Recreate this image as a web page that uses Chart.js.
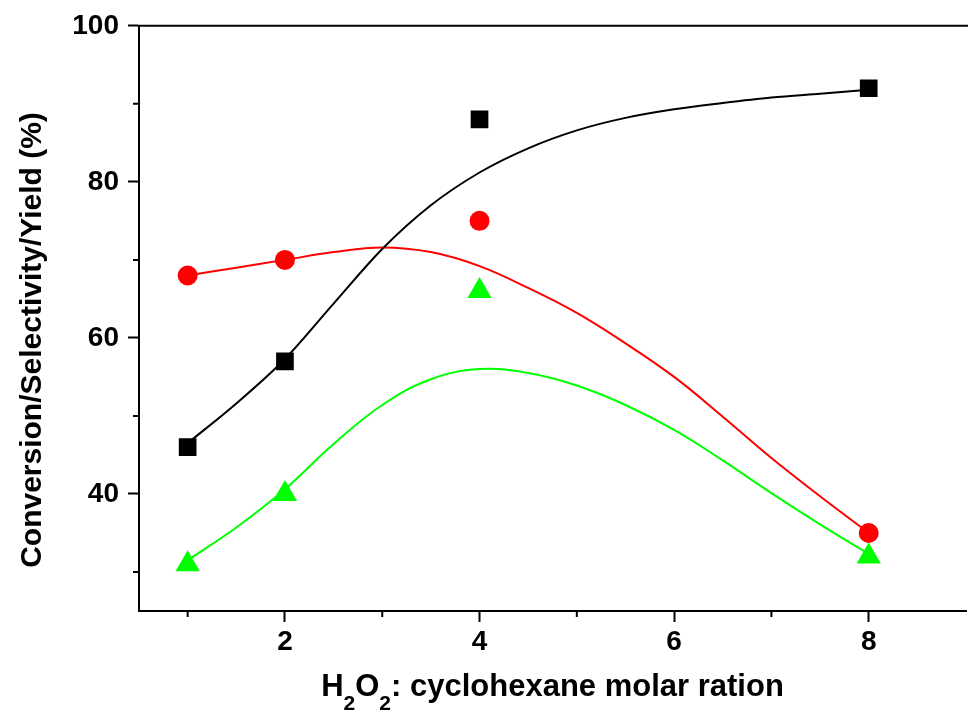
<!DOCTYPE html>
<html>
<head>
<meta charset="utf-8">
<script src="https://cdn.jsdelivr.net/npm/chart.js@4.4.0/dist/chart.umd.min.js"></script>
<style>
  html, body { margin: 0; padding: 0; background: #fff; overflow: hidden; }
  #wrap { width: 980px; height: 715px; }
</style>
</head>
<body>
<div id="wrap"><canvas id="main-chart"></canvas></div>
<script>
// ---- datos medidos ----
const ratios = [1, 2, 4, 8];
const conversion = [46, 57, 88, 92];
const selectivity = [68, 70, 75, 35];
const yieldValues = [31, 40, 66, 32];

// curvas de ajuste
const fitX = [1, 1.5, 2, 2.5, 3, 3.5, 4, 4.5, 5, 5.5, 6, 6.5, 7, 7.5, 8];
const conversionFit = [46.5, 51.6, 57.3, 64.4, 71.4, 77.0, 81.2, 84.3, 86.6, 88.2, 89.3, 90.1, 90.8, 91.3, 91.8];
const selectivityFit = [68, 69.0, 70, 71.0, 71.6, 71.0, 69.2, 66.4, 63.2, 59.3, 55.0, 49.9, 44.6, 39.7, 35];
const yieldFit = [31.5, 35.7, 40.6, 46.4, 51.4, 54.7, 56.0, 55.5, 53.9, 51.4, 48.2, 44.3, 40.1, 36.1, 32.3];

const xMajorTicks = [2, 4, 6, 8];
const xMinorTicks = [1, 3, 5, 7];
const yMajorTicks = [40, 60, 80, 100];
const yMinorTicks = [30, 50, 70, 90];

const xTitleParts = [['H', false], ['2', true], ['O', false], ['2', true], [': cyclohexane molar ration', false]];
const yTitle = 'Conversion/Selectivity/Yield (%)';

const FONT = "'Liberation Sans', Arial, sans-serif";

const pts = (xs, ys) => xs.map((x, i) => ({ x: x, y: ys[i] }));

function markers(data, color, style, radius) {
    return {
        data: data,
        showLine: false,
        pointStyle: style,
        pointRadius: radius,
        pointBackgroundColor: color,
        pointBorderColor: color,
        pointBorderWidth: 0
    };
}

function fitLine(data, color, mode) {
    return {
        data: data,
        showLine: true,
        borderColor: color,
        borderWidth: 2,
        pointRadius: 0,
        tension: 0.4,
        cubicInterpolationMode: mode,
        fill: false
    };
}

// marco superior, ticks menores y titulos de ejes
const decorPlugin = {
    id: 'decor',
    afterDraw(chart) {
        const ctx = chart.ctx;
        const area = chart.chartArea;
        const xs = chart.scales.x;
        const ys = chart.scales.y;
        ctx.save();
        ctx.strokeStyle = '#000';
        ctx.lineWidth = 2;
        ctx.beginPath();
        ctx.moveTo(area.left - 1, area.top);
        ctx.lineTo(area.right + 2, area.top);
        ctx.stroke();

        ctx.beginPath();
        xMinorTicks.forEach(v => {
            const px = xs.getPixelForValue(v);
            ctx.moveTo(px, area.bottom);
            ctx.lineTo(px, area.bottom + 6);
        });
        yMinorTicks.forEach(v => {
            const py = ys.getPixelForValue(v);
            ctx.moveTo(area.left, py);
            ctx.lineTo(area.left - 6, py);
        });
        ctx.stroke();

        // titulo eje X con subindices
        ctx.fillStyle = '#000';
        ctx.textBaseline = 'alphabetic';
        ctx.textAlign = 'left';
        const mainFont = 'bold 31px ' + FONT;
        const subFont = 'bold 21px ' + FONT;
        let total = 0;
        xTitleParts.forEach(p => {
            ctx.font = p[1] ? subFont : mainFont;
            total += ctx.measureText(p[0]).width;
        });
        let cx = (area.left + area.right) / 2 - total / 2;
        const base = 696;
        xTitleParts.forEach(p => {
            ctx.font = p[1] ? subFont : mainFont;
            ctx.fillText(p[0], cx, p[1] ? base + 14 : base);
            cx += ctx.measureText(p[0]).width;
        });

        // titulo eje Y
        ctx.translate(33, 340);
        ctx.rotate(-Math.PI / 2);
        ctx.font = 'bold 30px ' + FONT;
        ctx.textAlign = 'center';
        ctx.textBaseline = 'middle';
        ctx.fillText(yTitle, 0, 0);
        ctx.restore();
    }
};

const tickFont = { family: FONT, size: 28, weight: 'bold' };

new Chart(document.getElementById('main-chart'), {
    type: 'scatter',
    data: {
        datasets: [
            markers(pts(ratios, conversion), '#000000', 'rect', 12.5),
            markers(pts(ratios, selectivity), '#ff0000', 'circle', 10),
            markers(pts(ratios, yieldValues), '#00ff00', 'triangle', 14),
            fitLine(pts(fitX, conversionFit), '#000000', 'monotone'),
            fitLine(pts(fitX, selectivityFit), '#ff0000', 'default'),
            fitLine(pts(fitX, yieldFit), '#00ff00', 'default')
        ]
    },
    options: {
        responsive: true,
        maintainAspectRatio: false,
        animation: false,
        events: [],
        layout: { padding: { top: 22, right: 2, left: 0, bottom: 0 } },
        plugins: {
            legend: { display: false },
            tooltip: { enabled: false }
        },
        scales: {
            x: {
                type: 'linear',
                min: 0.5,
                max: 9,
                afterFit: s => { s.height = 104; },
                afterBuildTicks: s => { s.ticks = xMajorTicks.map(v => ({ value: v })); },
                border: { display: true, color: '#000', width: 2 },
                grid: { drawOnChartArea: false, drawTicks: true, tickLength: 11, tickWidth: 2, tickColor: '#000' },
                ticks: { color: '#000', font: tickFont, padding: 3, maxRotation: 0 }
            },
            y: {
                type: 'linear',
                min: 25,
                max: 100,
                afterFit: s => { s.width = 139; },
                afterBuildTicks: s => { s.ticks = yMajorTicks.map(v => ({ value: v })); },
                border: { display: true, color: '#000', width: 2 },
                grid: { drawOnChartArea: false, drawTicks: true, tickLength: 11, tickWidth: 2, tickColor: '#000' },
                ticks: { color: '#000', font: tickFont, padding: 9 }
            }
        }
    },
    plugins: [decorPlugin]
});
</script>
</body>
</html>
